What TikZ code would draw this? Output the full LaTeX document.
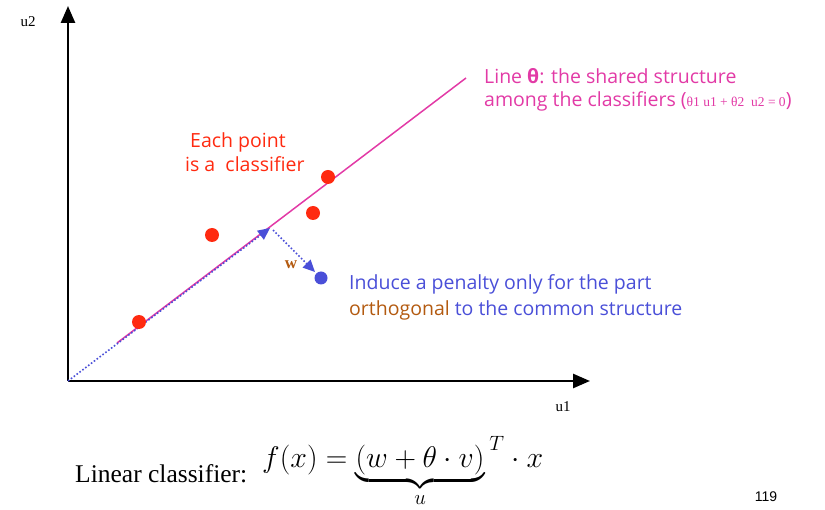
\documentclass[tikz,border=0pt]{standalone}
\usepackage{fontspec}
\usepackage{amsmath}
\usepackage{graphicx}
\setmainfont{Liberation Serif}
\newfontfamily\comic{Open Sans}
\newfontfamily\arialf{Liberation Sans}
\usetikzlibrary{arrows.meta}
\definecolor{pinkc}{HTML}{E23AA6}
\definecolor{redc}{HTML}{FF2A10}
\definecolor{bluec}{HTML}{4A4FD8}
\definecolor{brownc}{HTML}{B35A10}
\begin{document}
\begin{tikzpicture}[x=1pt,y=-1pt,
  axis/.style={line width=2.6pt,-{Triangle[length=17pt,width=14pt]}},
  rdot/.style={circle,fill=redc,inner sep=0pt,minimum size=14pt},
  bdot/.style={circle,fill=bluec,inner sep=0pt,minimum size=13pt},
  ctext/.style={font=\comic\fontsize{19.5}{25}\selectfont,anchor=west,inner sep=0pt},
  blued/.style={bluec,line width=1.6pt,dotted,-{Triangle[length=12pt,width=11pt]}}]
\useasboundingbox (0,0) rectangle (825,510);
\coordinate (O) at (68,381);
\coordinate (Ytip) at (68,6);
\coordinate (Xtip) at (590,381);
\draw[axis] (O) -- (Ytip);
\draw[axis] (O) -- (Xtip);
\node[font=\fontsize{15}{18}\selectfont] (u2) at (28,22) {u2};
\node[font=\fontsize{15}{18}\selectfont] (u1) at (563,407) {u1};
% theta line
\coordinate (L0) at (117,343);
\coordinate (L1) at (466,78);
\draw[pinkc,line width=1.5pt] (L0) -- (L1);
% projection
\coordinate (P) at (270,228);
\draw[blued] (O) -- (P);
\node[bdot] (b) at (321,278) {};
\coordinate (Q) at (315,272);
\coordinate (P2) at (273,230);
\draw[blued] (P2) -- (Q);
\node[brownc,font=\bfseries\fontsize{17}{18}\selectfont] (w) at (291,265) {w};
% red points
\node[rdot] (r1) at (139,322) {};
\node[rdot] (r2) at (212,235) {};
\node[rdot] (r3) at (313,213) {};
\node[rdot] (r4) at (328,177) {};
% texts
\node[ctext,redc] (t1) at (190,142) {Each point};
\node[ctext,redc] (t2) at (185,164) {is a\ \ classifier};
\node[ctext,pinkc] (t3) at (484,76) {Line {\bfseries θ}: the shared structure};
\node[ctext,pinkc] (t4) at (484,101) {among the classifiers (\textrm{\fontsize{13.5}{14}\selectfont θ1 u1 + θ2\ \ u2 = 0})};
\node[ctext,bluec] (t5) at (349,284) {Induce a penalty only for the part};
\node[ctext,bluec] (t6) at (349,310) {\textcolor{brownc}{orthogonal} to the common structure};
% formula
\node[anchor=west,inner sep=0pt,font=\fontsize{25.5}{28}\selectfont] (lc) at (75,474) {Linear classifier:};
\node[anchor=north west,inner sep=0pt] (f) at (262,436) {\scalebox{1.44}{\fontsize{22}{26}\selectfont$\displaystyle f(x)=\underbrace{(w+\theta\cdot v)}_{u}{}^{\raisebox{3pt}{$\scriptstyle T$}}\cdot x$}};
\node[font=\arialf\fontsize{14}{16}\selectfont] (pg) at (766,497) {119};
\end{tikzpicture}
\end{document}
